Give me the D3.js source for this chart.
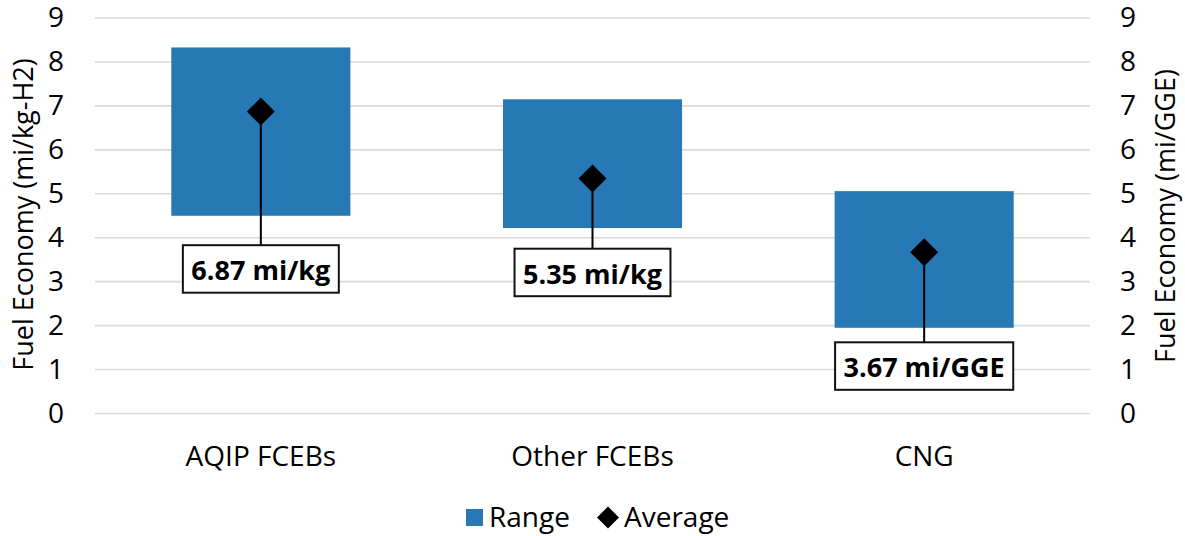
<!DOCTYPE html>
<html><head><meta charset="utf-8">
<script src="https://cdn.jsdelivr.net/npm/d3@7"></script>
<style>body{margin:0;background:#fff;} text{font-family:"Open Sans", sans-serif;}</style>
</head><body><svg id="c" width="1185" height="536"></svg>
<script>
const categories = ["AQIP FCEBs", "Other FCEBs", "CNG"];
const rangeLow = [4.50, 4.22, 1.95];
const rangeHigh = [8.33, 7.15, 5.06];
const averages = [6.87, 5.35, 3.67];
const labels = ["6.87 mi/kg", "5.35 mi/kg", "3.67 mi/GGE"];
const labelTop = [3.83, 3.75, 1.62];
const yTicks = [0,1,2,3,4,5,6,7,8,9];
const seriesNames = ["Range", "Average"];

const svg = d3.select("#c");
const L = 95, R = 1090, T = 18, B = 413.5;
const x = d3.scaleBand().domain(categories).range([L, R]).paddingInner(0.46).paddingOuter(0.23);
const y = d3.scaleLinear().domain([0, 9]).range([B, T]);
const y2 = d3.scaleLinear().domain([0, 9]).range([B, T]);
const blue = "#2779b5";
const FS = 28;

// gridlines
svg.append("g").selectAll("line").data(yTicks).join("line")
  .attr("x1", L).attr("x2", R).attr("y1", d => y(d)).attr("y2", d => y(d))
  .attr("stroke", "#d9d9d9").attr("stroke-width", 1.6);

function styleAxis(g) {
  g.select(".domain").remove();
  g.attr("font-family", null).attr("font-size", null);
  g.selectAll("text").attr("font-size", FS).attr("fill", "#000");
}

const ga = svg.append("g").attr("transform", `translate(${L},0)`)
  .call(d3.axisLeft(y).tickValues(yTicks).tickSize(0).tickPadding(31).tickFormat(d3.format("d")));
styleAxis(ga);

const gb = svg.append("g").attr("transform", `translate(${R},0)`)
  .call(d3.axisRight(y2).tickValues(yTicks).tickSize(0).tickPadding(30).tickFormat(d3.format("d")));
styleAxis(gb);

const gx = svg.append("g").attr("transform", `translate(0,${B})`)
  .call(d3.axisBottom(x).tickSize(0).tickPadding(0));
styleAxis(gx);
gx.selectAll("text").attr("dy", null).attr("y", 52.5);

// axis titles
svg.append("text").attr("transform", `translate(33,214.5) rotate(-90)`)
  .attr("text-anchor", "middle").attr("font-size", 27).text("Fuel Economy (mi/kg-H2)");
svg.append("text").attr("transform", `translate(1175,216) rotate(-90)`)
  .attr("text-anchor", "middle").attr("font-size", 27).text("Fuel Economy (mi/GGE)");

const data = categories.map((c, i) => ({c, lo: rangeLow[i], hi: rangeHigh[i], avg: averages[i], label: labels[i], lt: labelTop[i]}));
const cx = d => x(d.c) + x.bandwidth()/2;

// bars
svg.append("g").selectAll("rect").data(data).join("rect")
  .attr("x", d => x(d.c)).attr("width", x.bandwidth())
  .attr("y", d => y(d.hi)).attr("height", d => y(d.lo) - y(d.hi))
  .attr("fill", blue);

// leader lines
svg.append("g").selectAll("line").data(data).join("line")
  .attr("x1", cx).attr("x2", cx)
  .attr("y1", d => y(d.avg)).attr("y2", d => y(d.lt))
  .attr("stroke", "#000").attr("stroke-width", 2);

// diamonds
const diamond = d3.symbol().type(d3.symbolSquare).size(392);
svg.append("g").selectAll("path").data(data).join("path")
  .attr("d", diamond)
  .attr("transform", d => `translate(${cx(d)},${y(d.avg)}) rotate(45)`)
  .attr("fill", "#000");

// label boxes
const lg = svg.append("g").selectAll("g").data(data).join("g")
  .attr("transform", d => `translate(${cx(d)},${y(d.lt)})`);
const lt = lg.append("text").attr("text-anchor", "middle").attr("y", 35)
  .attr("font-size", 27).attr("font-weight", "bold").text(d => d.label);
lt.each(function() {
  const bb = this.getBBox();
  const w = bb.width + 17;
  d3.select(this.parentNode).insert("rect", "text")
    .attr("x", -w/2).attr("y", 0).attr("width", w).attr("height", 47.5)
    .attr("fill", "#fff").attr("stroke", "#111").attr("stroke-width", 2);
});

// legend
const leg = svg.append("g");
leg.append("rect").attr("x", 466).attr("y", 509).attr("width", 17).attr("height", 17).attr("fill", blue);
leg.append("text").attr("x", 489).attr("y", 526.5).attr("font-size", 28).text(seriesNames[0]);
leg.append("path").attr("d", d3.symbol().type(d3.symbolSquare).size(242))
  .attr("transform", "translate(608,517.5) rotate(45)").attr("fill", "#000");
leg.append("text").attr("x", 624).attr("y", 526.5).attr("font-size", 28).text(seriesNames[1]);
</script></body></html>
